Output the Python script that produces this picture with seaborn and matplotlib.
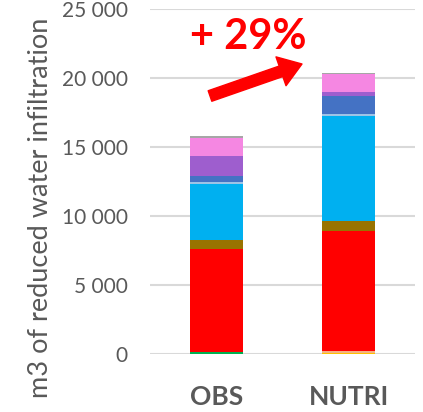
import matplotlib
matplotlib.use("Agg")
import matplotlib.pyplot as plt
import seaborn as sns
import numpy as np
import pandas as pd
from matplotlib.ticker import FuncFormatter

# Scenarios and stacked contributions (m3), listed bottom to top
scenarios = ["OBS", "NUTRI"]
layer_names = ["green", "orange", "salmon", "red", "brown", "cyan",
               "lightblue", "blue", "purple", "pink", "grey"]
layer_colors = ["#00B050", "#FFC000", "#F4B183", "#FF0000", "#997300", "#00B0F0",
                "#9DC3E6", "#4472C4", "#9E5ECE", "#F587E2", "#A6A6A6"]
obs_values = [120, 0, 0, 7470, 670, 4060, 140, 440, 1470, 1280, 150]
nutri_values = [0, 90, 110, 8710, 730, 7610, 120, 1330, 300, 1290, 60]
yticks = [0, 5000, 10000, 15000, 20000, 25000]
change_label = "+ 29%"

sns.set_theme(style="white")
plt.rcParams["font.family"] = ["Lato", "DejaVu Sans"]

fig = plt.figure(figsize=(4.23, 4.12), dpi=100)
ax = fig.add_axes([150 / 423, 58 / 412, 265 / 423, 345 / 412])

bottom = np.zeros(len(scenarios))
for name, color, o, n in zip(layer_names, layer_colors, obs_values, nutri_values):
    df = pd.DataFrame({"scenario": scenarios, "value": [o, n]})
    sns.barplot(data=df, x="scenario", y="value", order=scenarios, color=color,
                width=0.4, bottom=bottom.copy(), errorbar=None, ax=ax,
                linewidth=0, saturation=1)
    bottom += np.array([o, n])

ax.set_ylim(0, 25000)
ax.set_xlim(-0.5, 1.5)
ax.set_yticks(yticks)
ax.yaxis.set_major_formatter(FuncFormatter(lambda v, p: f"{int(v):,}".replace(",", " ")))
ax.grid(axis="y", color="#D9D9D9", linewidth=1.5, zorder=0)
ax.set_axisbelow(True)
for s in ax.spines.values():
    s.set_visible(False)
ax.tick_params(axis="y", length=0, pad=16, labelsize=15, labelcolor="#595959")
ax.tick_params(axis="x", length=0, pad=22, labelsize=19, labelcolor="#595959")
for lbl in ax.get_xticklabels():
    lbl.set_fontweight("bold")
ax.set_xlabel("")
ax.set_ylabel("m3 of reduced water infiltration", fontsize=19.5, color="#595959")
ax.yaxis.label.set_va("center")
ax.yaxis.set_label_coords(-0.415, 0.423)

# Growth annotation
fig.text(248 / 423, 1 - 37 / 412, change_label, color="#FF0000", fontsize=30,
         fontweight="bold", ha="center", va="center")
ax.annotate("", xy=(302, 412 - 64), xycoords="figure pixels",
            xytext=(210, 412 - 96), textcoords="figure pixels",
            arrowprops=dict(arrowstyle="simple,head_width=2.2,head_length=1.6,tail_width=0.8",
                            color="#FF0000", mutation_scale=10, shrinkA=0, shrinkB=0),
            annotation_clip=False)

fig.savefig("out.png", dpi=100)
